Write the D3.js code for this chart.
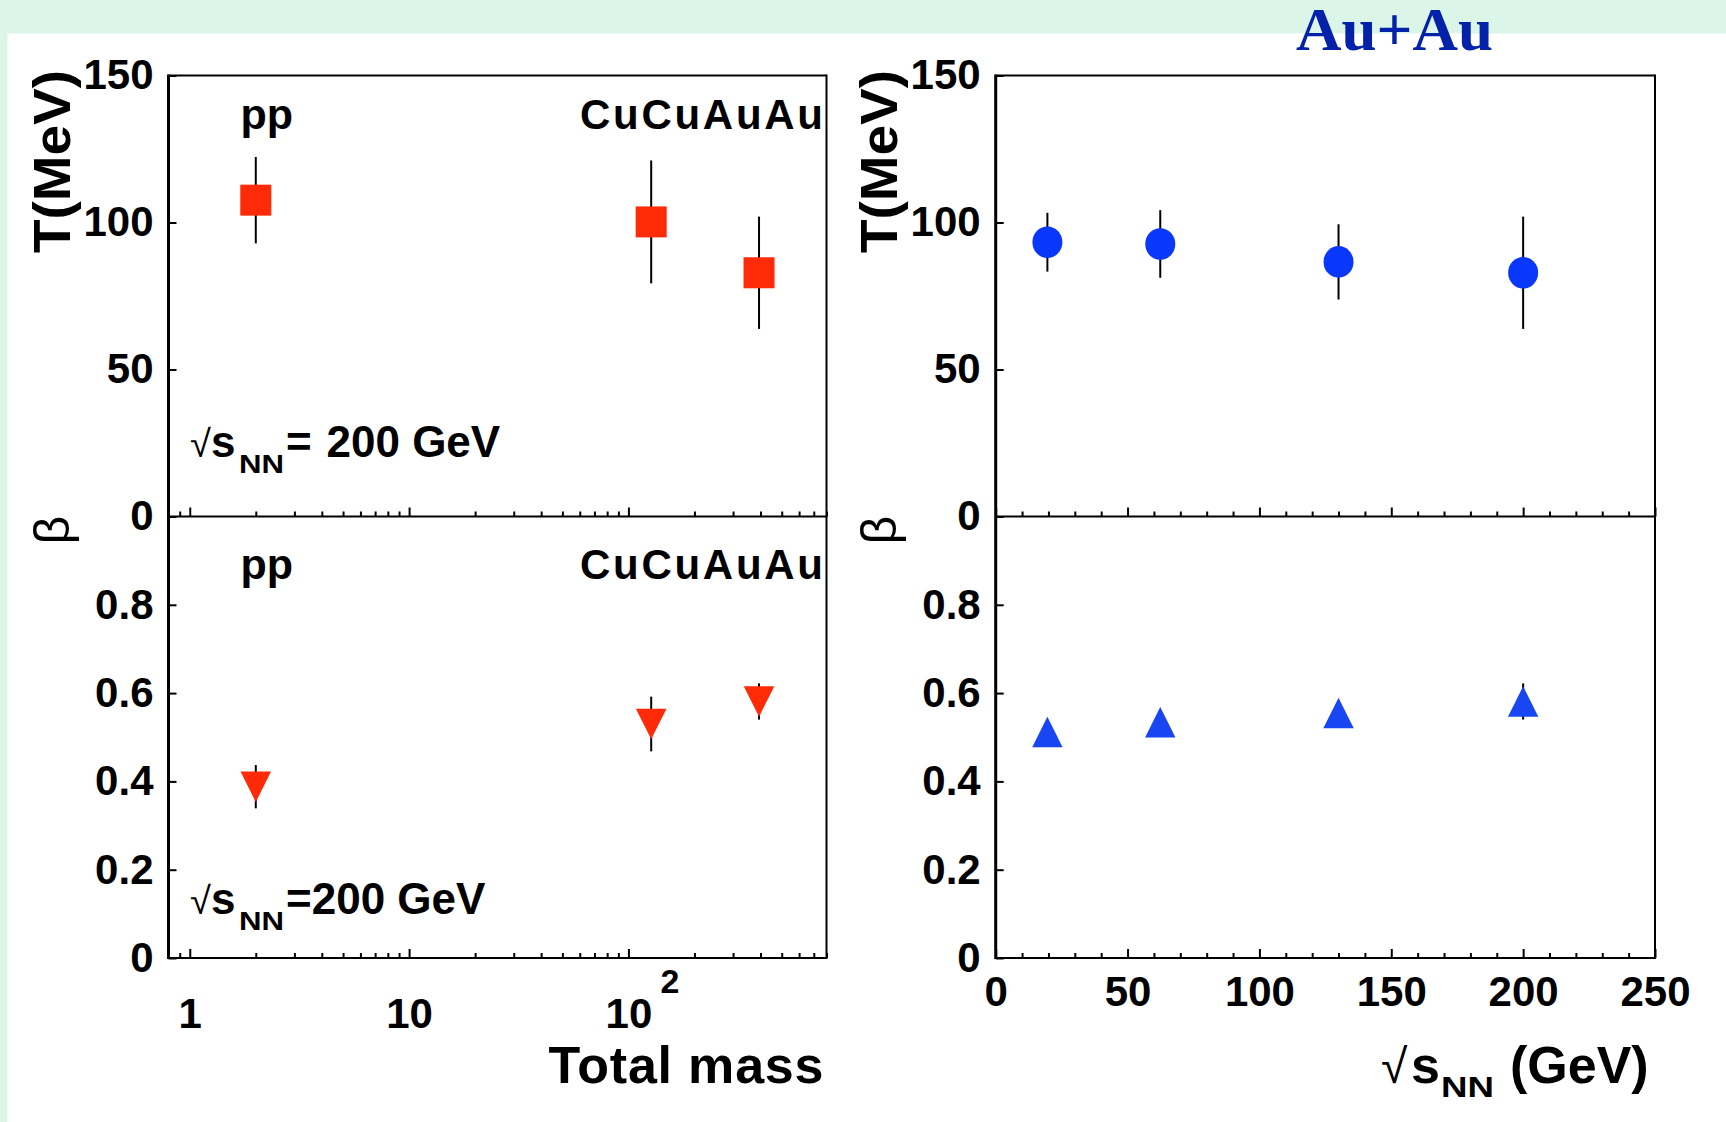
<!DOCTYPE html>
<html>
<head>
<meta charset="utf-8">
<script src="https://cdn.jsdelivr.net/npm/d3@7"></script>
<style>
  html, body { margin: 0; padding: 0; background: #dbf6e9; overflow: hidden; }
  svg { display: block; }
</style>
</head>
<body>
<svg id="fig" width="1726" height="1122"></svg>
<script>
// ---- Data -------------------------------------------------------------
// Collision systems at sqrt(sNN) = 200 GeV versus total mass of the system
const systems      = ["pp", "CuCu", "AuAu"];
const totalMass    = [2, 127, 394];
const tempSys      = [107.6, 100.2, 82.9];   // T (MeV)
const tempSysErr   = [14.7, 20.9, 19.1];
const betaSys      = [0.388, 0.530, 0.581];  // flow velocity
const betaSysErr   = [0.049, 0.062, 0.041];

// Au+Au beam-energy dependence
const energies     = [19.6, 62.4, 130, 200]; // sqrt(sNN) (GeV)
const tempAuAu     = [93.3, 92.7, 86.6, 82.9];
const tempAuAuErr  = [10.0, 11.5, 12.8, 19.1];
const betaAuAu     = [0.512, 0.534, 0.555, 0.581];
const betaAuAuErr  = [0.02, 0.02, 0.02, 0.041];

// Axis ticks
const tTicks        = [0, 50, 100, 150];
const betaTicks     = [0, 0.2, 0.4, 0.6, 0.8];
const massMajor     = [1, 10, 100];
const massMinor     = [0.9, 2, 3, 4, 5, 6, 7, 8, 9, 20, 30, 40, 50, 60, 70, 80, 90,
                       200, 300, 400, 500, 600, 700, 800];
const energyMajor   = [0, 50, 100, 150, 200, 250];
const energyMinor   = [10, 20, 30, 40, 60, 70, 80, 90, 110, 120, 130, 140,
                       160, 170, 180, 190, 210, 220, 230, 240];

// ---- Setup ------------------------------------------------------------
const W = 1726, H = 1122;
const SANS = "'Liberation Sans', Arial, Helvetica, sans-serif";
const SERIF = "'Liberation Serif', 'Times New Roman', Times, serif";
const RED = "#ff2a08", BLUE = "#0a38fa", BLUE_TRI = "#1746f2";

const svg = d3.select("#fig");
svg.append("rect").attr("width", W).attr("height", H).attr("fill", "#dbf6e9");
svg.append("rect").attr("x", 7.5).attr("y", 33.5)
   .attr("width", W - 7.5).attr("height", H - 33.5).attr("fill", "#ffffff");

const yTop = 75.5, yMid = 516.5, yBot = 958;

const xMass   = d3.scaleLog().domain([0.8, 800]).range([168.5, 826.5]);
const xEnergy = d3.scaleLinear().domain([0, 250]).range([995.7, 1655]);
const yT      = d3.scaleLinear().domain([0, 150]).range([yMid, yTop]);
const yBeta   = d3.scaleLinear().domain([0, 1]).range([yBot, yMid]);

function styleText(sel, size) {
  sel.attr("font-family", SANS).attr("font-weight", "bold")
     .attr("font-size", size).attr("fill", "#000");
}

// ---- Axes -------------------------------------------------------------
function leftAxis(scale, x0, values, fmt) {
  const g = svg.append("g").attr("transform", `translate(${x0},0)`)
    .call(d3.axisLeft(scale).tickValues(values).tickSize(-8).tickPadding(15).tickFormat(fmt));
  g.select(".domain").remove();
  g.selectAll(".tick line").attr("stroke", "#000").attr("stroke-width", 2);
  styleText(g.selectAll(".tick text"), 42);
  return g;
}

function bottomTicks(scale, y0, major, minor, labelPad, fmt) {
  const gMinor = svg.append("g").attr("transform", `translate(0,${y0})`)
    .call(d3.axisBottom(scale).tickValues(minor).tickSize(-5).tickFormat(""));
  gMinor.select(".domain").remove();
  gMinor.selectAll(".tick line").attr("stroke", "#000").attr("stroke-width", 2);

  const gMajor = svg.append("g").attr("transform", `translate(0,${y0})`)
    .call(d3.axisBottom(scale).tickValues(major).tickSize(-9)
            .tickPadding(labelPad === null ? 0 : labelPad)
            .tickFormat(labelPad === null ? "" : fmt));
  gMajor.select(".domain").remove();
  gMajor.selectAll(".tick line").attr("stroke", "#000").attr("stroke-width", 2);
  styleText(gMajor.selectAll(".tick text"), 42);
  return gMajor;
}

// Left panels (total mass, log scale)
leftAxis(yT, 168.5, tTicks, d3.format("d"));
leftAxis(yBeta, 168.5, betaTicks, v => v === 0 ? "0" : d3.format(".1f")(v));
bottomTicks(xMass, yMid, massMajor, massMinor, null);
bottomTicks(xMass, yBot, massMajor, massMinor, 40, v => v === 100 ? "10" : String(v));
// exponent of the 10^2 label
const sup = svg.append("text").attr("x", xMass(100) + 32).attr("y", 993).text("2");
styleText(sup, 34);

// Right panels (sqrt(sNN), linear scale)
leftAxis(yT, 995.7, tTicks, d3.format("d"));
leftAxis(yBeta, 995.7, betaTicks, v => v === 0 ? "0" : d3.format(".1f")(v));
bottomTicks(xEnergy, yMid, energyMajor, energyMinor, null);
bottomTicks(xEnergy, yBot, energyMajor, energyMinor, 18, d3.format("d"));

// Frames
function frame(x0, x1) {
  const g = svg.append("g").attr("stroke", "#000").attr("fill", "none");
  [yTop, yMid, yBot].forEach(y =>
    g.append("line").attr("x1", x0).attr("x2", x1).attr("y1", y).attr("y2", y).attr("stroke-width", 2));
  g.append("line").attr("x1", x1).attr("x2", x1).attr("y1", yTop - 1).attr("y2", yBot + 1).attr("stroke-width", 2);
  g.append("line").attr("x1", x0).attr("x2", x0).attr("y1", yTop - 1).attr("y2", yBot + 1).attr("stroke-width", 3);
}
frame(168.5, 826.5);
frame(995.7, 1655);

// ---- Data marks -------------------------------------------------------
function errorBars(xs, vals, errs, xScale, yScale) {
  svg.append("g").selectAll("line").data(vals).join("line")
    .attr("x1", (d, i) => xScale(xs[i])).attr("x2", (d, i) => xScale(xs[i]))
    .attr("y1", (d, i) => yScale(d + errs[i])).attr("y2", (d, i) => yScale(d - errs[i]))
    .attr("stroke", "#000").attr("stroke-width", 2);
}

// T vs total mass: squares
errorBars(totalMass, tempSys, tempSysErr, xMass, yT);
svg.append("g").selectAll("rect").data(tempSys).join("rect")
  .attr("x", (d, i) => xMass(totalMass[i]) - 15.5).attr("y", d => yT(d) - 15.5)
  .attr("width", 31).attr("height", 31).attr("fill", RED);

// beta vs total mass: downward triangles
errorBars(totalMass, betaSys, betaSysErr, xMass, yBeta);
svg.append("g").selectAll("path").data(betaSys).join("path")
  .attr("d", (d, i) => {
    const cx = xMass(totalMass[i]), cy = yBeta(d), r = 15.3;
    return `M${cx - r},${cy - r}L${cx + r},${cy - r}L${cx},${cy + r}Z`;
  })
  .attr("fill", RED);

// T vs energy: circles
errorBars(energies, tempAuAu, tempAuAuErr, xEnergy, yT);
svg.append("g").selectAll("ellipse").data(tempAuAu).join("ellipse")
  .attr("cx", (d, i) => xEnergy(energies[i])).attr("cy", d => yT(d))
  .attr("rx", 15).attr("ry", 15.8).attr("fill", BLUE);

// beta vs energy: upward triangles
errorBars(energies, betaAuAu, betaAuAuErr, xEnergy, yBeta);
svg.append("g").selectAll("path").data(betaAuAu).join("path")
  .attr("d", (d, i) => {
    const cx = xEnergy(energies[i]), cy = yBeta(d), r = 15.2;
    return `M${cx - r},${cy + r}L${cx + r},${cy + r}L${cx},${cy - r}Z`;
  })
  .attr("fill", BLUE_TRI);

// ---- Text -------------------------------------------------------------
function label(x, y, txt, size, extra) {
  const t = svg.append("text").attr("x", x).attr("y", y).text(txt);
  styleText(t, size);
  if (extra) extra(t);
  return t;
}

// System labels
label(240.5, 128.5, systems[0], 43);
label(580, 128.5, "CuCuAuAu", 42, t => t.attr("textLength", 243));
label(240.5, 578.5, systems[0], 43);
label(580, 578.5, "CuCuAuAu", 42, t => t.attr("textLength", 243));

// sqrt(sNN) annotations: radical sign, "s", subscript "NN", then the rest
function sqrtS(x, y, rest, restX) {
  const t = svg.append("text").attr("font-family", SANS).attr("fill", "#000");
  t.append("tspan").attr("x", x).attr("y", y).attr("font-size", 38)
    .attr("font-weight", "normal").text("\u221A");
  t.append("tspan").attr("x", x + 21).attr("y", y).attr("font-size", 44)
    .attr("font-weight", "bold").text("s");
  t.append("tspan").attr("x", x + 49).attr("y", y + 16)
    .attr("font-size", 26).attr("font-weight", "bold")
    .attr("textLength", 45).attr("lengthAdjust", "spacingAndGlyphs").text("NN");
  rest.forEach((r, i) => {
    t.append("tspan").attr("x", restX[i]).attr("y", y).attr("font-size", 44)
      .attr("font-weight", "bold").text(r);
  });
  return t;
}
sqrtS(190, 457, ["=", "200 GeV"], [286, 326.5]);
sqrtS(190, 914, ["=200 GeV"], [286]);

// Axis titles
label(823.5, 1082.5, "Total mass", 52, t => t.attr("text-anchor", "end").attr("textLength", 275));

const xt = svg.append("text").attr("font-family", SANS).attr("fill", "#000");
xt.append("tspan").attr("x", 1381).attr("y", 1082.5).attr("font-size", 48)
  .attr("font-weight", "normal").text("\u221A");
xt.append("tspan").attr("x", 1411).attr("y", 1082.5).attr("font-size", 52)
  .attr("font-weight", "bold").text("s");
xt.append("tspan").attr("x", 1441).attr("y", 1096.5).attr("font-size", 30)
  .attr("font-weight", "bold").attr("textLength", 53).attr("lengthAdjust", "spacingAndGlyphs").text("NN");
xt.append("tspan").attr("x", 1510).attr("y", 1082.5).attr("font-size", 52)
  .attr("font-weight", "bold").text("(GeV)");

[70, 897].forEach(bx => {
  const t = svg.append("text").attr("transform", `translate(${bx},253) rotate(-90)`)
    .attr("textLength", 183).attr("lengthAdjust", "spacingAndGlyphs").text("T(MeV)");
  styleText(t, 52);
  svg.append("text").attr("transform", `translate(${bx - 1},530) rotate(-90)`)
    .attr("text-anchor", "middle").attr("font-family", SANS).attr("font-size", 50)
    .attr("fill", "#000").text("\u03B2");
});

// Title
svg.append("text").attr("x", 1296).attr("y", 50).attr("font-family", SERIF)
  .attr("font-weight", "bold").attr("font-size", 62).attr("fill", "#0421a9")
  .attr("textLength", 197).attr("lengthAdjust", "spacingAndGlyphs").text("Au+Au");
</script>
</body>
</html>
